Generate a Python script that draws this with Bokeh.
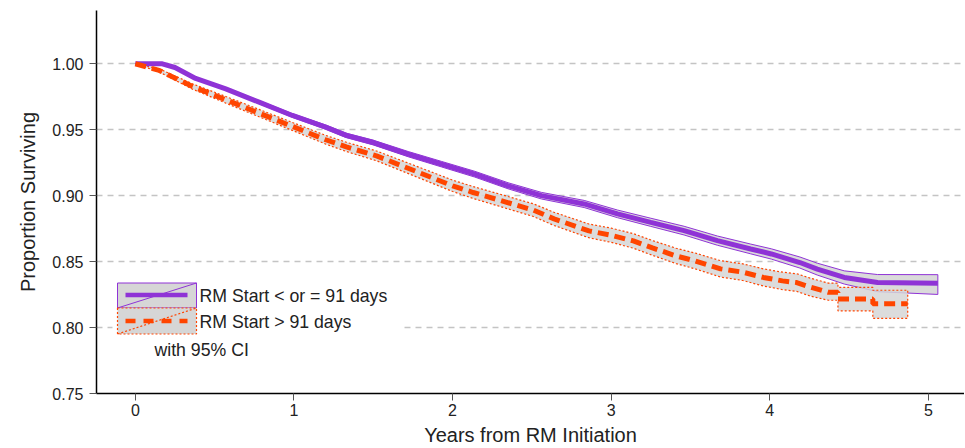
from bokeh.plotting import figure
from bokeh.models import FixedTicker, PrintfTickFormatter, Range1d
from bokeh.core.properties import value
from bokeh.embed import file_html
from bokeh.resources import INLINE

# ---------------- data ----------------
purple_t = [0, 0.17, 0.25, 0.38, 0.57, 0.78, 0.99, 1.20, 1.33, 1.50, 1.72, 1.93, 2.14,
            2.35, 2.56, 2.83, 3.04, 3.25, 3.46, 3.67, 3.88, 4.01, 4.19, 4.30, 4.47, 4.68, 5.06]
purple_s = [1.0, 1.0, 0.9972, 0.9889, 0.981, 0.9709, 0.9608, 0.952, 0.9457, 0.9403, 0.9315,
            0.9239, 0.9163, 0.9075, 0.900, 0.8937, 0.8862, 0.8798, 0.8735, 0.8659, 0.8596,
            0.8558, 0.8493, 0.8443, 0.838, 0.8342, 0.8336]
purple_hi = [1.0, 1.0, 0.9977, 0.9897, 0.982, 0.9721, 0.9622, 0.9536, 0.9474, 0.9421, 0.9335,
             0.926, 0.9185, 0.9098, 0.9025, 0.8964, 0.8891, 0.8829, 0.8768, 0.8694, 0.8633,
             0.8597, 0.8535, 0.8488, 0.843, 0.8402, 0.8401]
purple_lo = [1.0, 1.0, 0.9967, 0.9881, 0.98, 0.9697, 0.9594, 0.9504, 0.944, 0.9385, 0.9295,
             0.9218, 0.9141, 0.9052, 0.8975, 0.891, 0.8833, 0.8767, 0.8702, 0.8624, 0.8559,
             0.8519, 0.8451, 0.8398, 0.833, 0.8272, 0.8251]

orange_t = [0, 0.15, 0.36, 0.57, 0.78, 0.99, 1.20, 1.33, 1.52, 1.76, 2.0, 2.13, 2.38, 2.51,
            2.64, 2.86, 3.0, 3.14, 3.26, 3.41, 3.53, 3.69, 3.83, 3.96, 4.08, 4.17, 4.26, 4.37,
            4.43, 4.43, 4.65, 4.65, 4.87]
orange_s = [1.0, 0.995, 0.9828, 0.9727, 0.9626, 0.9525, 0.9424, 0.937, 0.9302, 0.9189, 0.9075,
            0.9024, 0.8936, 0.889, 0.8824, 0.8733, 0.870, 0.8657, 0.8604, 0.8543, 0.8505,
            0.8445, 0.842, 0.838, 0.8354, 0.8341, 0.8305, 0.8267, 0.8267, 0.8217, 0.8217,
            0.818, 0.818]
orange_hi = [1.0, 0.9962, 0.9848, 0.9752, 0.9654, 0.9555, 0.9457, 0.9405, 0.9339, 0.9229,
             0.9118, 0.9069, 0.8983, 0.8938, 0.8874, 0.8785, 0.8754, 0.8712, 0.866, 0.8601,
             0.8565, 0.8507, 0.8483, 0.8445, 0.842, 0.8408, 0.8373, 0.8337, 0.8337, 0.8305,
             0.8305, 0.8283, 0.8283]
orange_lo = [1.0, 0.9938, 0.9808, 0.9702, 0.9598, 0.9495, 0.9391, 0.9335, 0.9265, 0.9149,
             0.9032, 0.8979, 0.8889, 0.8842, 0.8774, 0.8681, 0.8646, 0.8602, 0.8548, 0.8485,
             0.8445, 0.8383, 0.8357, 0.8315, 0.8288, 0.8274, 0.8237, 0.8207, 0.8207, 0.8127,
             0.8127, 0.807, 0.807]

x_ticks = [0, 1, 2, 3, 4, 5]
y_ticks = [0.75, 0.80, 0.85, 0.90, 0.95, 1.00]
grid_ticks = [0.80, 0.85, 0.90, 0.95, 1.00]

label_purple = "RM Start < or = 91 days"
label_orange = "RM Start > 91 days"
label_ci = "with 95% CI"

# ---------------- styling / layout ----------------
PURPLE = "#8f33d6"
ORANGE = "#ff4500"
GREY = "#d6d6d6"
FONT = "Liberation Sans"

W, H = 964, 448
BL, BR, BT, BB = 96, 0, 10, 55
X0, X1 = -0.245, 5.228
Y0, Y1 = 0.75, 1.0404
FW, FH = W - BL - BR, H - BT - BB
OFF = 0  # page offset of the figure


def dx(px):  # page pixel -> data x
    return X0 + (px - OFF - BL) / FW * (X1 - X0)


def dy(py):  # page pixel -> data y
    return Y1 - (py - OFF - BT) / FH * (Y1 - Y0)


p = figure(width=W, height=H, x_range=Range1d(X0, X1), y_range=Range1d(Y0, Y1),
           output_backend="svg", toolbar_location=None,
           min_border_left=BL, min_border_right=BR, min_border_top=BT, min_border_bottom=BB)
p.outline_line_color = None
p.background_fill_color = "white"
p.border_fill_color = "white"

p.xgrid.visible = False
p.ygrid.ticker = FixedTicker(ticks=grid_ticks)
p.ygrid.grid_line_color = "#c4c4c4"
p.ygrid.grid_line_width = 1.5
p.ygrid.grid_line_dash = "6 5"

for ax in (p.xaxis[0], p.yaxis[0]):
    ax.axis_line_color = "black"
    ax.axis_line_width = 1.5
    ax.major_tick_line_color = "#555555"
    ax.major_tick_line_width = 1
    ax.major_tick_in = 0
    ax.major_tick_out = 7
    ax.minor_tick_line_color = None
    ax.major_label_text_font = FONT
    ax.major_label_text_font_size = "16px"
    ax.major_label_text_color = "#222222"
    ax.axis_label_text_font = FONT
    ax.axis_label_text_font_size = "20px"
    ax.axis_label_text_font_style = "normal"
    ax.axis_label_text_color = "#222222"

p.xaxis.ticker = FixedTicker(ticks=x_ticks)
p.yaxis.ticker = FixedTicker(ticks=y_ticks)
p.yaxis.formatter = PrintfTickFormatter(format="%.2f")
p.xaxis.axis_label = "Years from RM Initiation"
p.yaxis.axis_label = "Proportion Surviving"
p.xaxis.major_label_standoff = 3
p.xaxis.axis_label_standoff = 5
p.yaxis.major_label_standoff = 6
p.yaxis.axis_label_standoff = 10

# confidence bands
p.patch(purple_t + purple_t[::-1], purple_hi + purple_lo[::-1],
        fill_color=GREY, fill_alpha=0.9, line_color=PURPLE, line_width=1)
p.patch(orange_t + orange_t[::-1], orange_hi + orange_lo[::-1],
        fill_color=GREY, fill_alpha=0.85, line_color=ORANGE, line_width=1.2, line_dash="2 2")

# survival curves
p.line(purple_t, purple_s, line_color=PURPLE, line_width=5)
p.line(orange_t, orange_s, line_color=ORANGE, line_width=5, line_dash="11 6")

# legend (drawn by hand)
p.quad(left=[dx(112)], right=[dx(400)], top=[dy(277)], bottom=[dy(362)],
       fill_color="white", line_color=None)
p.quad(left=[dx(117)], right=[dx(196)], top=[dy(282.5)], bottom=[dy(307.5)],
       fill_color=GREY, line_color=PURPLE, line_width=1)
p.segment(x0=[dx(117)], y0=[dy(307.5)], x1=[dx(196)], y1=[dy(282.5)],
          line_color=PURPLE, line_width=1)
p.segment(x0=[dx(125)], y0=[dy(294.5)], x1=[dx(187)], y1=[dy(294.5)],
          line_color=PURPLE, line_width=4.5)
p.quad(left=[dx(117)], right=[dx(196)], top=[dy(307.5)], bottom=[dy(333.5)],
       fill_color=GREY, line_color=ORANGE, line_width=1.2, line_dash="2 2")
p.segment(x0=[dx(117)], y0=[dy(333.5)], x1=[dx(196)], y1=[dy(307.5)],
          line_color=ORANGE, line_width=1.2, line_dash="2 2")
p.segment(x0=[dx(125)], y0=[dy(320.5)], x1=[dx(187)], y1=[dy(320.5)],
          line_color=ORANGE, line_width=4.5, line_dash="10 8")

p.text(x=[dx(199), dx(199), dx(154)], y=[dy(295.5), dy(321.5), dy(349)],
       text=[label_purple, label_orange, label_ci],
       text_font=value(FONT), text_font_size="17.7px", text_color="#222222",
       text_baseline="middle", text_align="left")

open("out.html", "w").write(file_html(p, INLINE))
